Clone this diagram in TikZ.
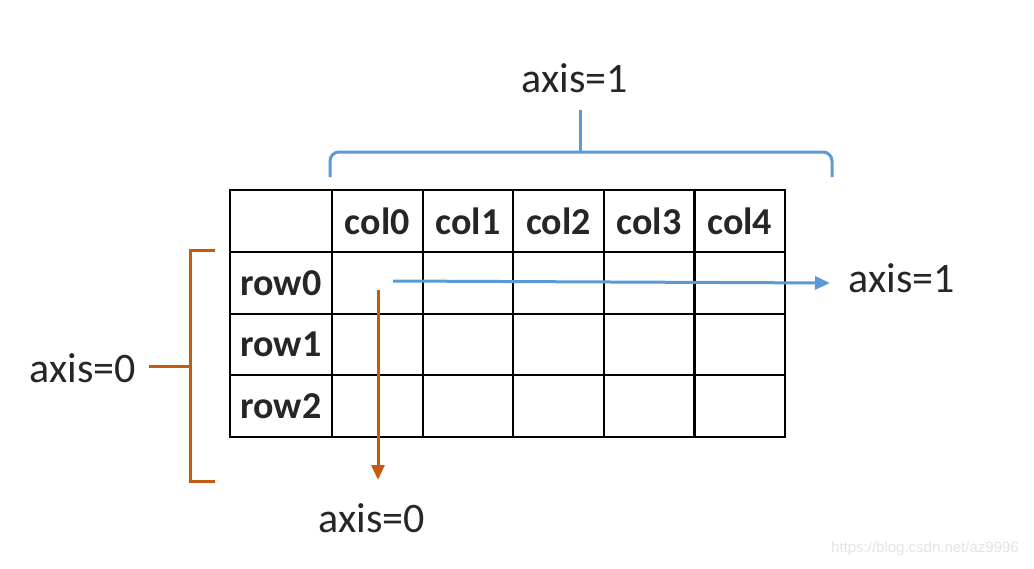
\documentclass[tikz,border=0pt]{standalone}
\usepackage{fontspec}
\setmainfont{Carlito}
\setsansfont{Liberation Sans}
\usepackage{tikz}
\usetikzlibrary{arrows.meta,positioning}
\definecolor{axisblue}{HTML}{5B9BD5}
\definecolor{axisorange}{HTML}{C55A11}
\definecolor{marklight}{HTML}{E4E4E4}

\begin{document}
\begin{tikzpicture}[x=1pt,y=-1pt,
 cell/.style={draw,line width=2.2pt,outer sep=0pt,inner sep=0pt,minimum width=90.6pt,minimum height=61.75pt,font=\fontsize{38}{40}\selectfont\bfseries,text=black!85},
 headcell/.style={cell,minimum width=102pt},
 lbl/.style={font=\fontsize{42}{46}\selectfont,text=black!85},
 barr/.style={-{Triangle[length=15pt,width=13pt]},line width=3pt,draw=axisblue},
 oarr/.style={-{Triangle[length=15pt,width=13pt]},line width=3pt,draw=axisorange},
 bline/.style={line width=3pt,draw=axisblue},
 oline/.style={line width=3pt,draw=axisorange}
]
\useasboundingbox (0,0) rectangle (1034,568);
\fill[white] (0,0) rectangle (1034,568);

% table
\node[headcell] (corner) at (281,221) {};
\node[cell,right=0pt of corner] (col0) {col0};
\node[cell,right=0pt of col0] (col1) {col1};
\node[cell,right=0pt of col1] (col2) {col2};
\node[cell,right=0pt of col2] (col3) {col3};
\node[cell,right=0pt of col3] (col4) {col4};
\node[headcell,below=0pt of corner] (row0) {row0};
\node[headcell,below=0pt of row0] (row1) {row1};
\node[headcell,below=0pt of row1] (row2) {row2};
\foreach \r in {0,1,2}
 \foreach \c in {0,...,4}
  \node[cell] (cell\r\c) at (col\c |- row\r) {};

% axis=1 brace
\node[lbl] (topaxis) at (575,78) {axis=1};
\draw[bline,rounded corners=9pt] (330,177) |- (580,152) -| (832,177);
\draw[bline] (580,152) -- (580,110);

% axis=0 bracket
\node[lbl] (leftaxis) at (83,368) {axis=0};
\draw[oline] (215,250) -| (190,481) -- (215,481);
\coordinate (bmid) at (190,366);
\draw[oline,shorten >=9pt] (bmid) -- (bmid -| leftaxis.east);

% arrows
\node[lbl] (raxis) at (902,278) {axis=1};
\node[lbl] (baxis) at (372,518) {axis=0};
\coordinate (hstart) at (393,281);
\coordinate (hend) at (830,283);
\coordinate (vstart) at (378,290);
\coordinate (vend) at (378,480);
\draw[barr] (hstart) -- (hend);
\draw[oarr] (vstart) -- (vend);

\node[font=\sffamily\fontsize{15}{17}\selectfont,text=marklight] (mark) at (925,549) {https://blog.csdn.net/az9996};
\end{tikzpicture}
\end{document}
